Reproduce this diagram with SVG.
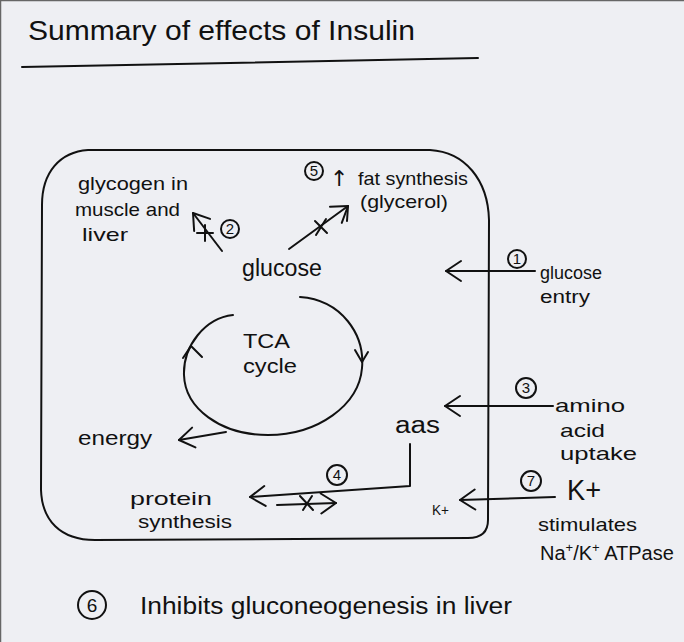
<svg xmlns="http://www.w3.org/2000/svg" width="684" height="642" viewBox="0 0 684 642">
<defs>
<style>
.ink{fill:none;stroke:#111;stroke-width:2;stroke-linecap:round;stroke-linejoin:round}
.t{font-family:"Liberation Sans",Arial,sans-serif;fill:#111}
.num{font-family:"Liberation Sans",Arial,sans-serif;fill:#111;font-size:15px;text-anchor:middle}
</style>
<marker id="ah" viewBox="-18 -13 20 26" markerWidth="20" markerHeight="26" refX="0" refY="0" orient="auto" markerUnits="userSpaceOnUse">
<path d="M-15,-10 L0,0 L-15,10" fill="none" stroke="#111" stroke-width="2" stroke-linecap="round" stroke-linejoin="round"/>
</marker>
</defs>
<rect x="0" y="0" width="684" height="642" fill="#eeeff3"/>
<path d="M0.5,642 V0.5 H684" fill="none" stroke="#666" stroke-width="1.5"/>

<g id="title">
<text class="t" x="28" y="40" font-size="28" textLength="387" lengthAdjust="spacingAndGlyphs">Summary of effects of Insulin</text>
<path class="ink" d="M22,67 L478,58"/>
</g>

<g id="cell">
<path class="ink" d="M88,150 L430,150 C465,152 488,180 489,220 L488,520 C488,533 480,538 468,538 L95,540 C60,540 42,520 41,490 L42,205 C42,172 60,152 88,150 Z"/>
</g>

<g id="glycogen">
<text class="t" x="78" y="190" font-size="19" textLength="110" lengthAdjust="spacingAndGlyphs">glycogen in</text>
<text class="t" x="75" y="216" font-size="19" textLength="105" lengthAdjust="spacingAndGlyphs">muscle and</text>
<text class="t" x="82" y="241" font-size="19" textLength="46" lengthAdjust="spacingAndGlyphs">liver</text>
</g>

<g id="n2">
<circle class="ink" cx="230" cy="229" r="9" stroke-width="1.6"/>
<text class="num" x="230" y="234">2</text>
</g>

<g id="glucose">
<text class="t" x="242" y="276" font-size="23" textLength="80" lengthAdjust="spacingAndGlyphs">glucose</text>
</g>

<g id="fat">
<circle class="ink" cx="314" cy="171" r="9" stroke-width="1.6"/>
<text class="num" x="314" y="176">5</text>
<text x="330" y="186" font-size="22" fill="#111" font-family="'DejaVu Sans',sans-serif">↑</text>
<text class="t" x="358" y="185" font-size="19" textLength="110" lengthAdjust="spacingAndGlyphs">fat synthesis</text>
<text class="t" x="360" y="208" font-size="19" textLength="88" lengthAdjust="spacingAndGlyphs">(glycerol)</text>
</g>

<g id="entry">
<circle class="ink" cx="517" cy="259" r="9" stroke-width="1.6"/>
<text class="num" x="517" y="264">1</text>
<text class="t" x="540" y="279" font-size="18" textLength="62" lengthAdjust="spacingAndGlyphs">glucose</text>
<text class="t" x="540" y="303" font-size="18" textLength="50" lengthAdjust="spacingAndGlyphs">entry</text>
</g>

<g id="tca">
<text class="t" x="243" y="348" font-size="21" textLength="47" lengthAdjust="spacingAndGlyphs">TCA</text>
<text class="t" x="243" y="373" font-size="21" textLength="54" lengthAdjust="spacingAndGlyphs">cycle</text>
</g>

<g id="energy">
<text class="t" x="78" y="445" font-size="20" textLength="74" lengthAdjust="spacingAndGlyphs">energy</text>
</g>

<g id="aas">
<text class="t" x="395" y="433" font-size="23" textLength="45" lengthAdjust="spacingAndGlyphs">aas</text>
</g>

<g id="amino">
<circle class="ink" cx="526" cy="388" r="10" stroke-width="1.6"/>
<text class="num" x="526" y="393">3</text>
<text class="t" x="555" y="412" font-size="19" textLength="70" lengthAdjust="spacingAndGlyphs">amino</text>
<text class="t" x="560" y="437" font-size="19" textLength="45" lengthAdjust="spacingAndGlyphs">acid</text>
<text class="t" x="560" y="460" font-size="19" textLength="77" lengthAdjust="spacingAndGlyphs">uptake</text>
</g>

<g id="protein">
<text class="t" x="130" y="505" font-size="19" textLength="82" lengthAdjust="spacingAndGlyphs">protein</text>
<text class="t" x="138" y="528" font-size="19" textLength="94" lengthAdjust="spacingAndGlyphs">synthesis</text>
</g>

<g id="n4">
<circle class="ink" cx="337" cy="475" r="10" stroke-width="1.6"/>
<text class="num" x="337" y="480">4</text>
</g>

<g id="kin">
<text class="t" x="432" y="515" font-size="14" textLength="17" lengthAdjust="spacingAndGlyphs">K+</text>
</g>

<g id="kout">
<circle class="ink" cx="531" cy="481" r="10" stroke-width="1.6"/>
<text class="num" x="531" y="486">7</text>
<text class="t" x="567" y="500" font-size="30" textLength="34" lengthAdjust="spacingAndGlyphs">K+</text>
<text class="t" x="538" y="531" font-size="19" textLength="99" lengthAdjust="spacingAndGlyphs">stimulates</text>
<text class="t" x="540" y="560" font-size="20">Na<tspan font-size="13" dy="-8">+</tspan><tspan dy="8">/K</tspan><tspan font-size="13" dy="-8">+</tspan><tspan dy="8"> ATPase</tspan></text>
</g>

<g id="gluconeo">
<circle class="ink" cx="92" cy="605" r="14" stroke-width="1.8"/>
<text class="t" x="92" y="612" font-size="19" text-anchor="middle">6</text>
<text class="t" x="140" y="614" font-size="23" textLength="372" lengthAdjust="spacingAndGlyphs">Inhibits gluconeogenesis in liver</text>
</g>

<g id="connectors">
<!-- 2: glucose to glycogen (inhibited) -->
<path class="ink" d="M222,251 L193,213" marker-end="url(#ah)"/>
<path class="ink" d="M197,233 L213,233 M205,225 L205,241"/>
<!-- 5: glucose to fat -->
<path class="ink" d="M289,249 L348,206" marker-end="url(#ah)"/>
<path class="ink" d="M348,206 L347,221 M315,221 L327,233 M326,219 L316,235"/>
<!-- 1: glucose entry -->
<path class="ink" d="M535,271 L446,271" marker-end="url(#ah)"/>
<!-- TCA cycle -->
<path class="ink" d="M300,297 C342,300 365,335 362,368 C359,405 318,435 268,435 C220,435 185,408 184,375 C183,346 205,318 233,315"/>
<path class="ink" d="M355,350 L362,362 L368,352"/>
<path class="ink" d="M183,358 L191,346 L202,357"/>
<!-- energy -->
<path class="ink" d="M226,432 L179,440" marker-end="url(#ah)"/>
<!-- 3: amino acid uptake -->
<path class="ink" d="M553,406 L445,406" marker-end="url(#ah)"/>
<!-- 4: aas to protein synthesis -->
<path class="ink" d="M410,444 L410,486 L250,497" marker-end="url(#ah)"/>
<path class="ink" d="M277,505 L336,503" marker-end="url(#ah)"/>
<path class="ink" d="M300,496 L313,510 M312,496 L303,510"/>
<!-- 7: K+ -->
<path class="ink" d="M555,497 L460,500" marker-end="url(#ah)"/>
</g>
</svg>
